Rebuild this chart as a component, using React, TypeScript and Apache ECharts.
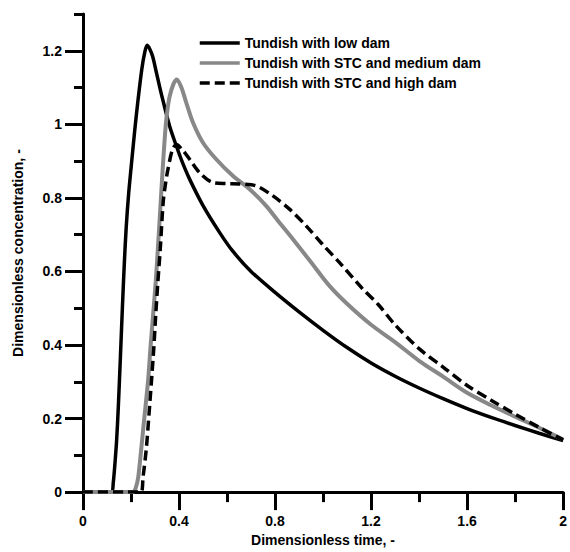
import React, { useEffect, useRef } from "react";
import * as echarts from "echarts";

const lowT = [0, 0.119, 0.126, 0.133, 0.14, 0.147, 0.156, 0.164, 0.172, 0.18, 0.19, 0.2, 0.215, 0.229, 0.245, 0.257, 0.267, 0.278, 0.29, 0.306, 0.32, 0.333, 0.361, 0.389, 0.415, 0.444, 0.5, 0.568, 0.624, 0.7, 0.8, 0.9, 1.0, 1.1, 1.2, 1.3, 1.4, 1.5, 1.6, 1.7, 1.8, 1.9, 2.0];
const lowC = [0, 0, 0.025, 0.077, 0.14, 0.23, 0.37, 0.5, 0.62, 0.72, 0.81, 0.88, 0.98, 1.065, 1.15, 1.195, 1.215, 1.205, 1.185, 1.14, 1.1, 1.065, 0.995, 0.941, 0.895, 0.851, 0.779, 0.707, 0.655, 0.6, 0.543, 0.49, 0.44, 0.393, 0.351, 0.315, 0.283, 0.254, 0.227, 0.203, 0.181, 0.16, 0.14];

const medT = [0, 0.209, 0.22, 0.23, 0.243, 0.257, 0.271, 0.281, 0.292, 0.303, 0.312, 0.322, 0.333, 0.345, 0.353, 0.361, 0.377, 0.391, 0.41, 0.43, 0.458, 0.5, 0.555, 0.624, 0.693, 0.762, 0.817, 0.873, 0.95, 1.025, 1.1, 1.2, 1.3, 1.4, 1.5, 1.6, 1.7, 1.8, 1.9, 2.0];
const medC = [0, 0, 0.012, 0.04, 0.12, 0.212, 0.302, 0.392, 0.482, 0.572, 0.662, 0.77, 0.89, 1.0, 1.045, 1.076, 1.11, 1.122, 1.1, 1.059, 1.005, 0.95, 0.905, 0.86, 0.824, 0.779, 0.734, 0.689, 0.625, 0.562, 0.512, 0.455, 0.408, 0.357, 0.314, 0.27, 0.236, 0.205, 0.175, 0.143];

const highT = [0, 0.241, 0.25, 0.264, 0.275, 0.285, 0.295, 0.303, 0.312, 0.322, 0.334, 0.344, 0.354, 0.372, 0.389, 0.415, 0.444, 0.485, 0.54, 0.6, 0.65, 0.72, 0.79, 0.859, 0.928, 1.0, 1.066, 1.163, 1.23, 1.3, 1.4, 1.5, 1.6, 1.7, 1.8, 1.9, 2.0];
const highC = [0, 0, 0.04, 0.12, 0.212, 0.3, 0.392, 0.482, 0.572, 0.662, 0.788, 0.84, 0.878, 0.93, 0.945, 0.93, 0.905, 0.869, 0.842, 0.839, 0.838, 0.833, 0.806, 0.77, 0.725, 0.672, 0.626, 0.554, 0.51, 0.455, 0.39, 0.34, 0.29, 0.25, 0.212, 0.176, 0.142];

const seriesNames = [
  "Tundish with low dam",
  "Tundish with STC and medium dam",
  "Tundish with STC and high dam",
];
const yLabelValues = [0, 0.2, 0.4, 0.6, 0.8, 1, 1.2];

const zip = (t: number[], c: number[]) => t.map((v, i) => [v, c[i]]);

const FONT = "'Liberation Sans', Arial, sans-serif";

export default function App() {
  const ref = useRef<HTMLDivElement>(null);
  useEffect(() => {
    document.body.style.margin = "0";
    if (!ref.current) return;
    const chart = echarts.init(ref.current, null, { renderer: "svg" });
    const txt = { color: "#000", fontFamily: FONT, fontWeight: "bold" as const, fontSize: 14 };
    chart.setOption({
      animation: false,
      backgroundColor: "#fff",
      grid: { left: 83, right: 5, top: 14, bottom: 57 },
      legend: {
        data: seriesNames,
        orient: "vertical",
        left: 193,
        top: 31,
        itemWidth: 40,
        itemHeight: 14,
        itemGap: 6,
        itemStyle: { opacity: 0 },
        lineStyle: { width: 3.5 },
        textStyle: { ...txt },
      },
      xAxis: {
        type: "value",
        min: 0,
        max: 2,
        interval: 0.4,
        name: "Dimensionless time, -",
        nameLocation: "middle",
        nameGap: 38,
        nameTextStyle: { ...txt },
        axisLine: { show: true, onZero: false, lineStyle: { color: "#000", width: 3 } },
        axisTick: { show: true, length: 18, lineStyle: { color: "#000", width: 3 } },
        minorTick: { show: true, splitNumber: 2, length: 10, lineStyle: { color: "#000", width: 3 } },
        axisLabel: { ...txt, margin: 22 },
        splitLine: { show: false },
        minorSplitLine: { show: false },
      },
      yAxis: [
        {
          type: "value",
          min: 0,
          max: 1.3,
          interval: 0.1,
          name: "Dimensionless concentration, -",
          nameLocation: "middle",
          nameGap: 58,
          nameTextStyle: { ...txt },
          axisLine: { show: true, onZero: false, lineStyle: { color: "#000", width: 3 } },
          axisTick: { show: true, length: 18, customValues: yLabelValues, lineStyle: { color: "#000", width: 3 } },
          axisLabel: { ...txt, margin: 21, customValues: yLabelValues },
          splitLine: { show: false },
        },
        {
          type: "value",
          min: 0,
          max: 1.3,
          interval: 0.1,
          position: "left",
          axisLine: { show: false },
          axisTick: { show: true, length: 9, lineStyle: { color: "#000", width: 3 } },
          axisLabel: { show: false },
          splitLine: { show: false },
        },
      ],
      series: [
        {
          name: seriesNames[0],
          type: "line",
          data: zip(lowT, lowC),
          symbol: "none",
          smooth: 0.3,
          z: 2,
          lineStyle: { color: "#000", width: 3.5 },
          itemStyle: { color: "#000" },
        },
        {
          name: seriesNames[1],
          type: "line",
          data: zip(medT, medC),
          symbol: "none",
          smooth: 0.3,
          z: 3,
          lineStyle: { color: "#888888", width: 4 },
          itemStyle: { color: "#888888" },
        },
        {
          name: seriesNames[2],
          type: "line",
          data: zip(highT, highC),
          symbol: "none",
          smooth: 0.3,
          z: 4,
          lineStyle: { color: "#000", width: 3.5, type: [10, 5] },
          itemStyle: { color: "#000" },
        },
      ],
    });
    return () => chart.dispose();
  }, []);
  return <div ref={ref} style={{ width: 570, height: 552 }} />;
}
